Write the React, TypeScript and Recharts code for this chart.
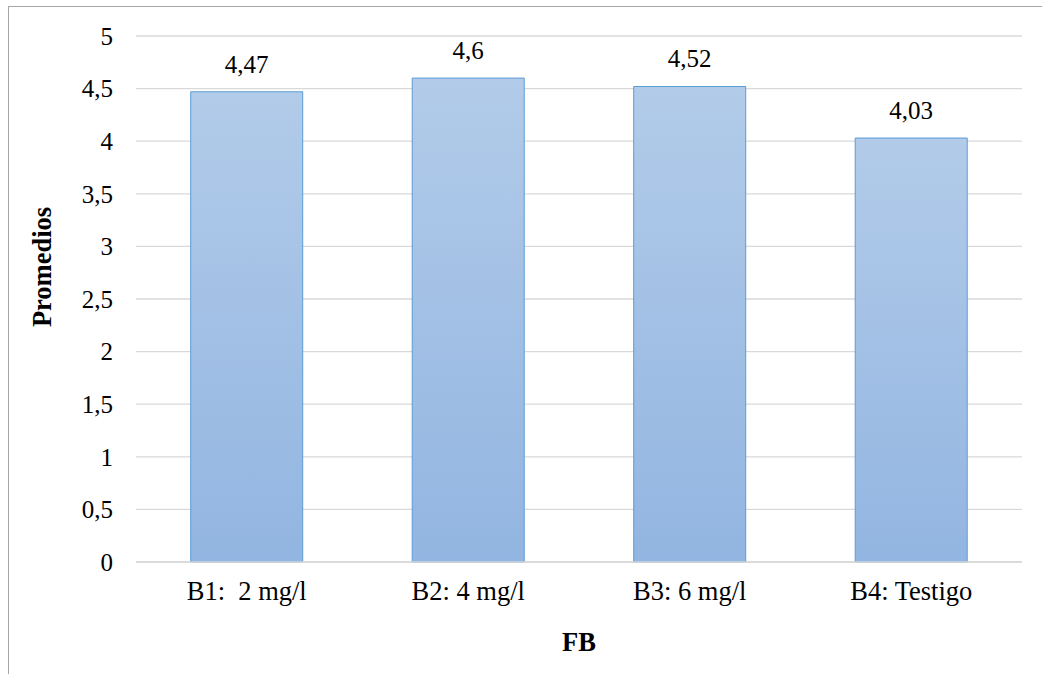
import { BarChart, Bar, XAxis, YAxis, CartesianGrid, LabelList, Label } from "recharts";

const categories = ["B1:\u00a0 2 mg/l", "B2: 4 mg/l", "B3: 6 mg/l", "B4: Testigo"];
const promedios = [4.47, 4.6, 4.52, 4.03];
const yTicks = [0, 0.5, 1, 1.5, 2, 2.5, 3, 3.5, 4, 4.5, 5];

const data = categories.map((name, i) => ({ name, value: promedios[i] }));

const fmt = (v: number) => String(v).replace(".", ",");
const font = "'Liberation Serif', 'Times New Roman', serif";
const fs = 25;
const fsText = 26.5;

const YTitle = () => (
  <text
    x={42}
    y={267}
    transform="rotate(-90 42 267)"
    textAnchor="middle"
    dominantBaseline="central"
    fontFamily={font}
    fontSize={fsText}
    fontWeight="bold"
    fill="#000"
  >
    Promedios
  </text>
);

export default function App() {
  return (
    <div style={{ position: "absolute", left: 0, top: 0, width: 1042, height: 674, background: "#fff", overflow: "hidden" }}>
      <div
        style={{
          position: "absolute",
          left: 8,
          top: 6,
          width: 1100,
          height: 700,
          borderLeft: "1px solid #a6a6a6",
          borderTop: "1px solid #a6a6a6",
        }}
      />
      <div style={{ position: "absolute", left: 0, top: 0 }}>
        <BarChart
          width={1042}
          height={674}
          data={data}
          margin={{ top: 36, right: 20, bottom: 0, left: 0 }}
          barCategoryGap="24.7%"
        >
          <defs>
            <linearGradient id="barFill" x1="0" y1="0" x2="0" y2="1">
              <stop offset="0%" stopColor="#b2cbe9" />
              <stop offset="100%" stopColor="#92b5e1" />
            </linearGradient>
          </defs>
          <CartesianGrid vertical={false} stroke="#d9d9d9" strokeWidth={1.3} />
          <XAxis
            dataKey="name"
            height={112}
            tickLine={false}
            axisLine={{ stroke: "#d9d9d9", strokeWidth: 1.3 }}
            tickMargin={13}
            tick={{ fontFamily: font, fontSize: fsText, fill: "#000" }}
            interval={0}
          >
            <Label
              value="FB"
              position="insideBottom"
              offset={23}
              style={{ fontFamily: font, fontSize: fsText, fontWeight: "bold", fill: "#000" }}
            />
          </XAxis>
          <YAxis
            width={136}
            domain={[0, 5]}
            ticks={yTicks}
            interval={0}
            tickLine={false}
            axisLine={false}
            tickMargin={17}
            tickFormatter={fmt}
            tick={{ fontFamily: font, fontSize: fs, fill: "#000" }}
            label={<YTitle />}
          />
          <Bar dataKey="value" fill="url(#barFill)" stroke="#5b9bd5" strokeWidth={1} isAnimationActive={false}>
            <LabelList
              dataKey="value"
              position="top"
              offset={19}
              formatter={(v: any) => fmt(v)}
              style={{ fontFamily: font, fontSize: fs, fill: "#000" }}
            />
          </Bar>
        </BarChart>
      </div>
    </div>
  );
}
